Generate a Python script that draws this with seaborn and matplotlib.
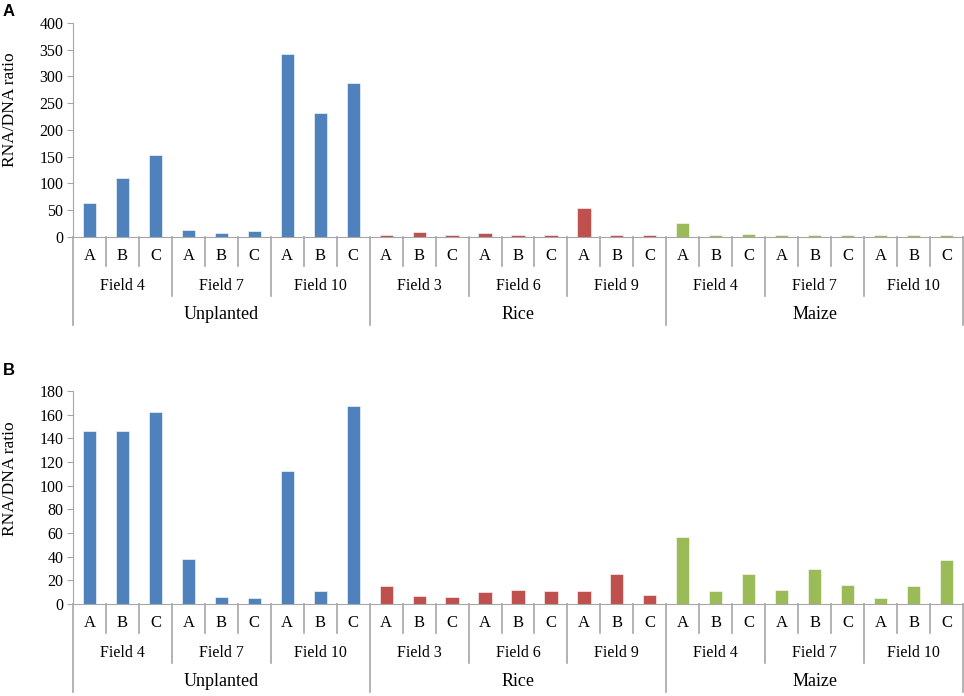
import matplotlib
matplotlib.use("Agg")
import matplotlib.pyplot as plt
import numpy as np
import pandas as pd
import seaborn as sns

groups = ["Unplanted", "Rice", "Maize"]
fields = {
    "Unplanted": ["Field 4", "Field 7", "Field 10"],
    "Rice": ["Field 3", "Field 6", "Field 9"],
    "Maize": ["Field 4", "Field 7", "Field 10"],
}
samples = ["A", "B", "C"]
colors = {"Unplanted": "#4F81BD", "Rice": "#C0504D", "Maize": "#9BBB59"}

# values in order: group -> field -> sample
ratio_a = [64, 110, 153, 13, 7, 11, 342, 231, 288,
           3, 9, 3, 7, 3, 3, 54, 3, 3,
           26, 3, 5, 3, 3, 3, 3, 3, 3]
ratio_b = [146, 146, 162, 38, 6, 5, 112, 11, 167,
           15, 7, 6, 10, 12, 11, 11, 25, 8,
           57, 11, 25, 12, 30, 16, 5, 15, 37]

rows = []
for g in groups:
    for f in fields[g]:
        for s in samples:
            rows.append({"group": g, "field": f, "sample": s, "key": f"{g}|{f}|{s}"})
base = pd.DataFrame(rows)

W, H, DPI = 9.64, 6.96, 100
fig = plt.figure(figsize=(W, H), dpi=DPI)
serif = "Liberation Serif"
line_col = "#A6A6A6"


def panel(values, top_px, base_px, ymax, ystep, letter, letter_y, label_center_px):
    left_px, right_px = 73, 963
    ax = fig.add_axes([left_px / 964, 1 - base_px / 696,
                       (right_px - left_px) / 964, (base_px - top_px) / 696])
    df = base.copy()
    df["value"] = values
    sns.barplot(data=df, x="key", y="value", hue="group", palette=colors,
                dodge=False, width=0.4, legend=False, ax=ax,
                edgecolor="white", linewidth=0.4, saturation=1)
    n = len(df)
    ax.set_xlim(-0.5, n - 0.5)
    ax.set_ylim(0, ymax)
    ax.set_yticks(np.arange(0, ymax + 1, ystep))
    ax.set_yticklabels([str(v) for v in range(0, ymax + 1, ystep)],
                       fontfamily=serif, fontsize=11.5)
    ax.set_xticks([])
    ax.set_xlabel("")
    ax.set_ylabel("RNA/DNA ratio", fontfamily=serif, fontsize=12.5)
    h_px = base_px - top_px
    ax.yaxis.set_label_coords(-0.062, 1 - (label_center_px - top_px) / h_px)
    for sp in ["top", "right"]:
        ax.spines[sp].set_visible(False)
    ax.spines["left"].set_color(line_col)
    ax.spines["bottom"].set_color(line_col)
    ax.tick_params(axis="y", length=4, color=line_col, pad=3)
    ax.set_facecolor("white")

    trans = ax.get_xaxis_transform()

    def fy(px):
        return -px / h_px

    # hierarchical category axis
    for i in range(n + 1):
        x = i - 0.5
        if i == 0 or i == n or i % 9 == 0:
            depth = 88
        elif i % 3 == 0:
            depth = 59
        else:
            depth = 29
        ax.plot([x, x], [0, fy(depth)], transform=trans, color=line_col,
                lw=1.2, clip_on=False)
    for i, row in df.iterrows():
        ax.text(i, fy(19), row["sample"], transform=trans, ha="center",
                va="center", fontfamily=serif, fontsize=12)
    for j in range(9):
        g = groups[j // 3]
        ax.text(3 * j + 1, fy(49), fields[g][j % 3], transform=trans,
                ha="center", va="center", fontfamily=serif, fontsize=11.5)
    for k, g in enumerate(groups):
        ax.text(9 * k + 4, fy(78), g, transform=trans, ha="center",
                va="center", fontfamily=serif, fontsize=13)
    fig.text(9 / 964, 1 - letter_y / 696, letter, fontfamily="Liberation Sans",
             fontweight="bold", fontsize=12, ha="center", va="center")
    return ax


panel(ratio_a, 23, 237, 400, 50, "A", 11, 110)
panel(ratio_b, 391, 604, 180, 20, "B", 370, 479)

fig.savefig("out.png", dpi=DPI, facecolor="white")
